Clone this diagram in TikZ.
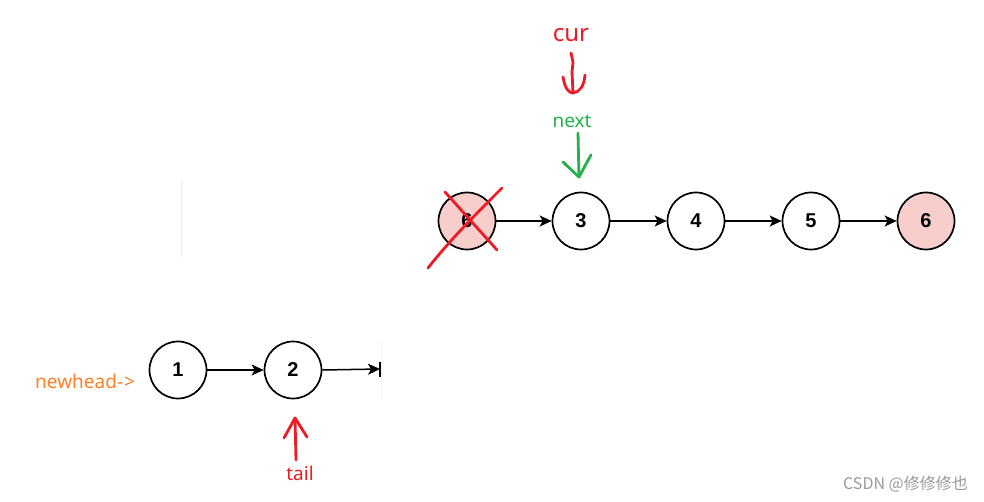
\documentclass[tikz,border=0pt]{standalone}
\usepackage{fontspec}
\setmainfont{Noto Sans}
\newfontfamily\digitfont{Liberation Sans}
\newfontfamily\cjkfont{Noto Sans CJK SC}
\usetikzlibrary{arrows.meta}
\definecolor{pinkfill}{HTML}{F8CECC}
\definecolor{handred}{HTML}{ED1C24}
\definecolor{handgreen}{HTML}{22B14C}
\definecolor{handorange}{HTML}{FF7F27}
\definecolor{wmgray}{HTML}{9A9A9A}
\begin{document}
\begin{tikzpicture}[x=1pt,y=-1pt,
  listnode/.style={circle,draw=black,line width=1.7pt,fill=white,minimum size=57pt,inner sep=0pt,
    font=\digitfont\bfseries\fontsize{20}{20}\selectfont},
  delnode/.style={listnode,fill=pinkfill},
  link/.style={line width=1.5pt,-{Stealth[length=12pt,width=11pt,inset=3pt]}},
  redpen/.style={draw=handred,line width=2.8pt,line cap=round,line join=round},
  greenpen/.style={draw=handgreen,line width=2.8pt,line cap=round,line join=round},
  faint/.style={draw=black!7,line width=1pt}]
\useasboundingbox[fill=white] (0,0) rectangle (984,502);

% top row
\node[delnode] (n6a) at (467,221) {6};
\node[listnode] (n3) at (581,221) {3};
\node[listnode] (n4) at (696,221) {4};
\node[listnode] (n5) at (811,221) {5};
\node[delnode] (n6b) at (926,221) {6};
\draw[link] (n6a) -- (n3);
\draw[link] (n3) -- (n4);
\draw[link] (n4) -- (n5);
\draw[link] (n5) -- (n6b);

% red cross over deleted node
\coordinate (xa1) at (445,192);
\coordinate (xa2) at (497,250);
\coordinate (xb1) at (502,188);
\coordinate (xb2) at (428,268);
\draw[redpen] (xa1) -- (xa2);
\draw[redpen] (xb1) .. controls (475,215) and (450,240) .. (xb2);

% cur label and hand arrow
\node[text=handred,font=\fontsize{24}{24}\selectfont,inner sep=0pt] (cur) at (571,35) {cur};
\coordinate (c1) at (571,53);
\coordinate (c2) at (573,93);
\coordinate (cl) at (563,77);
\coordinate (cr) at (585,75);
\draw[redpen] (c1) -- (573,62) -- (572,72) -- (c2);
\draw[redpen] (cl) .. controls (565,89) and (569,93) .. (c2) .. controls (580,92) and (584,86) .. (cr);

% next label and hand arrow
\node[text=handgreen,font=\fontsize{19}{19}\selectfont,inner sep=0pt] (next) at (572,121) {next};
\coordinate (g1) at (578,133);
\coordinate (g2) at (579,177);
\coordinate (gl) at (563,162);
\coordinate (gr) at (591,155);
\draw[greenpen] (g1) -- (g2);
\draw[greenpen] (gl) -- (g2) -- (586,164) -- (gr);

% faint separator line
\coordinate (f1) at (181,180);
\coordinate (f2) at (181,257);
\draw[faint] (f1) -- (f2);

% bottom row
\node[listnode] (m1) at (178,370) {1};
\node[listnode] (m2) at (293,370) {2};
\coordinate (cut) at (380,369);
\draw[link] (m1) -- (m2);
\draw[link] (m2.east) -- (cut);
\coordinate (s1) at (380,362);
\coordinate (s2) at (380,377);
\draw[line width=1.4pt] (s1) -- (s2);
\coordinate (fb1) at (381,340);
\coordinate (fb2) at (381,400);
\draw[draw=black!4,line width=0.8pt] (fb1) -- (fb2);

\node[text=handorange,font=\fontsize{19}{19}\selectfont,inner sep=0pt,anchor=west] (newhead) at (35,381) {newhead-\kern1pt>};

% tail label and hand arrow
\node[text=handred,font=\fontsize{19}{19}\selectfont,inner sep=0pt] (tail) at (300,473) {tail};
\coordinate (t1) at (296,460);
\coordinate (t2) at (295,418);
\coordinate (tl) at (284,438);
\coordinate (tr) at (307,437);
\draw[redpen] (t1) -- (t2);
\draw[redpen] (tl) -- (t2) -- (tr);

% watermark
\node[text=wmgray,font=\cjkfont\fontsize{16}{16}\selectfont,inner sep=0pt,anchor=east] (wm) at (968,484) {CSDN @修修修也};
\end{tikzpicture}
\end{document}
